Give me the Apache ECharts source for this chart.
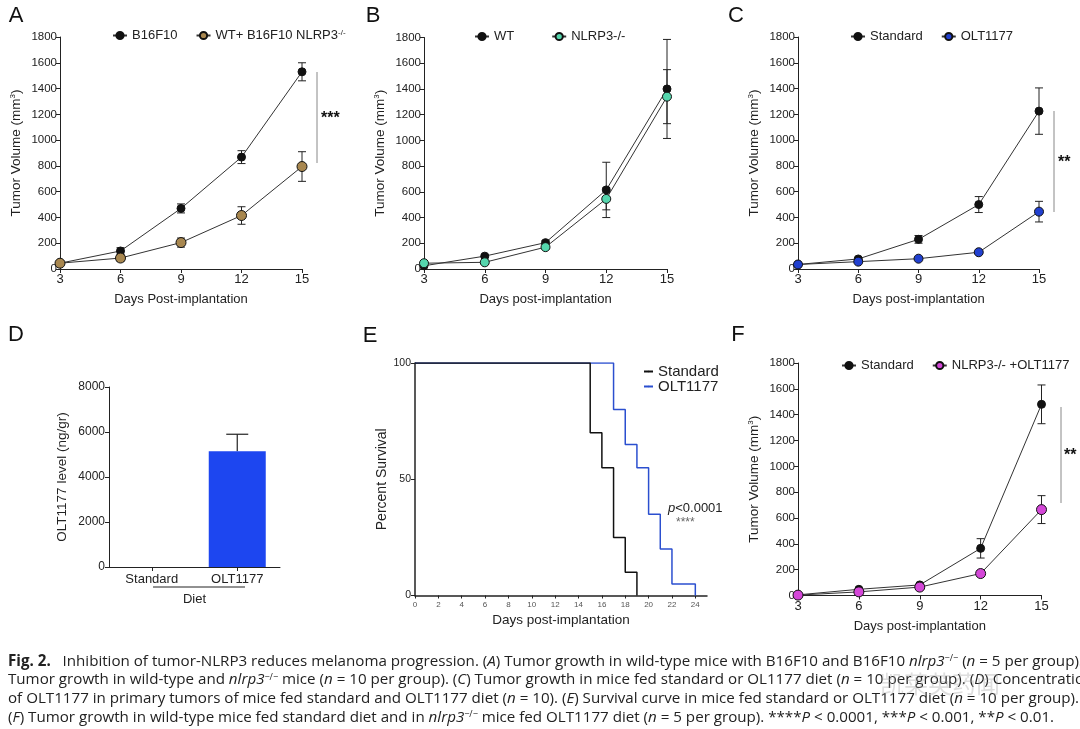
<!DOCTYPE html>
<html>
<head>
<meta charset="utf-8">
<title>Fig. 2</title>
<script src="https://cdn.jsdelivr.net/npm/echarts@6/dist/echarts.min.js"></script>
<style>
  html, body { margin: 0; padding: 0; background: #fff; }
  #main { width: 1080px; height: 729px; }
</style>
</head>
<body>
<div id="main"></div>
<script>
  // values
  var days = [3, 6, 9, 12, 15];

  // A: B16F10 vs WT + B16F10 NLRP3-/-
  var aB16Mean = [45, 140, 470, 868, 1530];
  var aB16Err = [10, 25, 35, 50, 70];
  var aKoMean = [45, 85, 205, 415, 795];
  var aKoErr = [10, 25, 35, 68, 115];

  // B: WT vs NLRP3-/- mice
  var bWtMean = [25, 100, 205, 615, 1400];
  var bWtErr = [10, 10, 15, 215, 385];
  var bKoMean = [45, 52, 170, 545, 1340];
  var bKoErr = [10, 10, 10, 85, 210];

  // C: standard vs OLT1177 diet
  var cStdMean = [35, 78, 230, 500, 1225];
  var cStdErr = [10, 10, 30, 62, 180];
  var cOltMean = [35, 57, 80, 130, 445];
  var cOltErr = [5, 5, 5, 8, 80];

  // D: OLT1177 level in tumors
  var dDiet = ['Standard', 'OLT1177'];
  var dLevel = [0, 5150];
  var dErr = [0, 750];

  // E: survival
  var eStdDays = [0, 15, 16, 17, 18, 19];
  var eStdSurv = [100, 70, 55, 25, 10, 0];
  var eOltDays = [0, 17, 18, 19, 20, 21, 22, 24];
  var eOltSurv = [100, 80, 65, 55, 35, 20, 5, 0];
  var eTicks = [0, 25, 2];

  // F: standard vs NLRP3-/- + OLT1177
  var fStdMean = [5, 48, 82, 365, 1480];
  var fStdErr = [3, 8, 10, 75, 150];
  var fMixMean = [3, 28, 65, 170, 665];
  var fMixErr = [2, 5, 8, 10, 108];

  var FONT = '"Liberation Sans", Arial, sans-serif';
  var CAP_FONT = '"Open Sans", sans-serif';
  var CAP_SIZE = 15.15;
  var INK = '#222';

  var labels = {
    A1: 'B16F10', A2: 'WT+ B16F10 NLRP3{sup|-/-}',
    B1: 'WT', B2: 'NLRP3-/-',
    C1: 'Standard', C2: 'OLT1177',
    E1: 'Standard', E2: 'OLT1177',
    F1: 'Standard', F2: 'NLRP3-/- +OLT1177'
  };

  function pairs(xs, ys) {
    return xs.map(function (x, i) { return [x, ys[i]]; });
  }
  function errRows(xs, mean, err) {
    return xs.map(function (x, i) { return [x, mean[i] - err[i], mean[i] + err[i]]; });
  }
  function plain(v) { return String(v); }

  function renderErr(params, api) {
    var x = api.value(0);
    var top = api.coord([x, api.value(2)]);
    var bot = api.coord([x, api.value(1)]);
    var w = 4;
    var st = { stroke: INK, lineWidth: 1 };
    return {
      type: 'group',
      children: [
        { type: 'line', shape: { x1: top[0], y1: top[1], x2: bot[0], y2: bot[1] }, style: st },
        { type: 'line', shape: { x1: top[0] - w, y1: top[1], x2: top[0] + w, y2: top[1] }, style: st },
        { type: 'line', shape: { x1: bot[0] - w, y1: bot[1], x2: bot[0] + w, y2: bot[1] }, style: st }
      ]
    };
  }

  function renderBarErr(params, api) {
    var top = api.coord([api.value(0), api.value(2)]);
    var base = api.coord([api.value(0), api.value(1)]);
    var w = 11;
    var st = { stroke: INK, lineWidth: 1.2 };
    return {
      type: 'group',
      children: [
        { type: 'line', shape: { x1: top[0], y1: top[1], x2: base[0], y2: base[1] }, style: st },
        { type: 'line', shape: { x1: top[0] - w, y1: top[1], x2: top[0] + w, y2: top[1] }, style: st }
      ]
    };
  }

  function growth(name, idx, ys, color, size) {
    return {
      name: name, type: 'line', xAxisIndex: idx, yAxisIndex: idx,
      data: pairs(days, ys),
      symbol: 'circle', symbolSize: size,
      lineStyle: { color: '#333', width: 1 },
      itemStyle: { color: color, borderColor: '#111', borderWidth: 1 },
      z: 4
    };
  }
  function errSeries(idx, mean, err) {
    return {
      type: 'custom', xAxisIndex: idx, yAxisIndex: idx,
      renderItem: renderErr, data: errRows(days, mean, err), z: 3, silent: true
    };
  }

  function axisBase() {
    return {
      axisLine: { show: true, lineStyle: { color: INK, width: 1 } },
      axisTick: { show: true, length: 4, lineStyle: { color: INK } },
      splitLine: { show: false },
      axisLabel: { color: INK, fontFamily: FONT, fontSize: 12, margin: 4, formatter: plain }
    };
  }

  function dayAxis(idx, name, gap) {
    var a = axisBase();
    a.gridIndex = idx;
    a.type = 'value';
    a.min = 3; a.max = 15; a.interval = 3;
    a.axisLabel.fontSize = 13;
    a.name = name;
    a.nameLocation = 'middle';
    a.nameGap = gap;
    a.nameTextStyle = { color: INK, fontFamily: FONT, fontSize: 13 };
    return a;
  }
  function volAxis(idx) {
    var a = axisBase();
    a.gridIndex = idx;
    a.type = 'value';
    a.min = 0; a.max = 1800; a.interval = 200;
    a.axisLabel.fontSize = 11.5;
    a.axisLabel.margin = 3;
    a.name = 'Tumor Volume (mm{sup|3})';
    a.nameLocation = 'middle';
    a.nameGap = 37;
    a.nameTextStyle = {
      color: INK, fontFamily: FONT, fontSize: 13.5,
      rich: { sup: { fontSize: 8, verticalAlign: 'top', fontFamily: FONT, color: INK } }
    };
    return a;
  }

  function legendFor(names, left, top, gap) {
    return {
      data: names, left: left, top: top, itemGap: gap,
      itemWidth: 14, itemHeight: 9, padding: 0, selectedMode: false,
      formatter: function (n) { return labels[n]; },
      textStyle: {
        color: INK, fontFamily: FONT, fontSize: 13, padding: [0, 0, 0, 0],
        rich: { sup: { fontSize: 8, verticalAlign: 'top', color: INK, fontFamily: FONT } }
      }
    };
  }

  // grids: A B C D E F
  var grids = [
    { left: 60, top: 37, width: 242, height: 232 },
    { left: 424, top: 37.5, width: 243, height: 231.5 },
    { left: 798, top: 37, width: 241, height: 232 },
    { left: 109, top: 387, width: 171, height: 180 },
    { left: 415, top: 363, width: 292, height: 232.5 },
    { left: 798, top: 363, width: 243.5, height: 232.5 }
  ];

  var xAxes = [
    dayAxis(0, 'Days Post-implantation', 24),
    dayAxis(1, 'Days post-implantation', 24),
    dayAxis(2, 'Days post-implantation', 24),
    (function () {
      var a = axisBase();
      a.gridIndex = 3; a.type = 'category'; a.data = dDiet;
      a.boundaryGap = true;
      a.axisTick = { show: true, alignWithLabel: true, length: 4, lineStyle: { color: INK } };
      a.axisLabel = { color: INK, fontFamily: FONT, fontSize: 13, margin: 6 };
      a.name = 'Diet'; a.nameLocation = 'middle'; a.nameGap = 26;
      a.nameTextStyle = { color: INK, fontFamily: FONT, fontSize: 13 };
      return a;
    })(),
    (function () {
      var a = axisBase();
      a.gridIndex = 4; a.type = 'value';
      a.min = eTicks[0]; a.max = eTicks[1]; a.interval = eTicks[2];
      a.axisLine.lineStyle.width = 1.5;
      a.axisTick.length = 3;
      a.axisLabel = { color: '#555', fontFamily: FONT, fontSize: 8, margin: 5, showMaxLabel: false };
      a.name = 'Days post-implantation'; a.nameLocation = 'middle'; a.nameGap = 18;
      a.nameTextStyle = { color: INK, fontFamily: FONT, fontSize: 13.5 };
      return a;
    })(),
    dayAxis(5, 'Days post-implantation', 24)
  ];

  var yAxes = [
    volAxis(0), volAxis(1), volAxis(2),
    (function () {
      var a = axisBase();
      a.gridIndex = 3; a.type = 'value';
      a.min = 0; a.max = 8000; a.interval = 2000;
      a.name = 'OLT1177 level (ng/gr)'; a.nameLocation = 'middle'; a.nameGap = 40;
      a.nameTextStyle = { color: INK, fontFamily: FONT, fontSize: 13.5 };
      return a;
    })(),
    (function () {
      var a = axisBase();
      a.gridIndex = 4; a.type = 'value';
      a.min = 0; a.max = 100; a.interval = 50;
      a.axisLine.lineStyle.width = 1.5;
      a.axisLabel.fontSize = 10.5;
      a.name = 'Percent Survival'; a.nameLocation = 'middle'; a.nameGap = 20;
      a.nameTextStyle = { color: INK, fontFamily: FONT, fontSize: 14 };
      return a;
    })(),
    volAxis(5)
  ];

  var series = [
    errSeries(0, aB16Mean, aB16Err),
    errSeries(0, aKoMean, aKoErr),
    growth('A1', 0, aB16Mean, '#111', 8),
    growth('A2', 0, aKoMean, '#a8874f', 10),

    errSeries(1, bWtMean, bWtErr),
    errSeries(1, bKoMean, bKoErr),
    growth('B1', 1, bWtMean, '#111', 8),
    growth('B2', 1, bKoMean, '#55d6ad', 9),

    errSeries(2, cStdMean, cStdErr),
    errSeries(2, cOltMean, cOltErr),
    growth('C1', 2, cStdMean, '#111', 8),
    growth('C2', 2, cOltMean, '#2140d0', 9),

    {
      type: 'bar', xAxisIndex: 3, yAxisIndex: 3, data: dLevel, barWidth: 57,
      itemStyle: { color: '#1d46f0' }, z: 2
    },
    {
      type: 'custom', xAxisIndex: 3, yAxisIndex: 3, renderItem: renderBarErr, z: 1,
      data: dDiet.map(function (c, i) { return [i, dLevel[i], dLevel[i] + dErr[i]]; })
        .filter(function (r) { return r[2] > r[1]; })
    },

    {
      name: 'E2', type: 'line', xAxisIndex: 4, yAxisIndex: 4, step: 'end',
      data: pairs(eOltDays, eOltSurv), symbol: 'none',
      lineStyle: { color: '#2b4fcf', width: 1.5 }, itemStyle: { color: '#2b4fcf' }, z: 3
    },
    {
      name: 'E1', type: 'line', xAxisIndex: 4, yAxisIndex: 4, step: 'end',
      data: pairs(eStdDays, eStdSurv), symbol: 'none',
      lineStyle: { color: '#111', width: 1.5 }, itemStyle: { color: '#111' }, z: 4
    },

    errSeries(5, fStdMean, fStdErr),
    errSeries(5, fMixMean, fMixErr),
    growth('F1', 5, fStdMean, '#111', 8),
    growth('F2', 5, fMixMean, '#d447d8', 10)
  ];

  var legends = [
    legendFor(['A1', 'A2'], 112, 29, 18),
    legendFor(['B1', 'B2'], 474, 30, 37),
    legendFor(['C1', 'C2'], 850, 30, 18),
    legendFor(['F1', 'F2'], 841, 359, 18),
    (function () {
      var l = legendFor(['E1', 'E2'], 643, 364, 0);
      l.orient = 'vertical';
      l.itemWidth = 9; l.itemHeight = 2;
      l.textStyle.fontSize = 15; l.textStyle.lineHeight = 15;
      return l;
    })()
  ];

  function letter(t, x, y) {
    return {
      type: 'text', x: x, y: y,
      style: { text: t, fontFamily: FONT, fontSize: 22, fill: '#111', textAlign: 'center', textVerticalAlign: 'middle' }
    };
  }
  function sigLine(x, y1, y2) {
    return { type: 'line', shape: { x1: x, y1: y1, x2: x, y2: y2 }, style: { stroke: '#888', lineWidth: 1 } };
  }
  function stars(t, x, y) {
    return {
      type: 'text', x: x, y: y,
      style: { text: t, fontFamily: FONT, fontSize: 16, fontWeight: 'bold', fill: '#111', textAlign: 'left', textVerticalAlign: 'middle' }
    };
  }

  var capRich = {
    b: { fontWeight: 'bold', fontFamily: CAP_FONT, fontSize: CAP_SIZE, color: INK },
    i: { fontStyle: 'italic', fontFamily: CAP_FONT, fontSize: CAP_SIZE, color: INK },
    sup: { fontFamily: CAP_FONT, fontSize: 9, verticalAlign: 'top', color: INK }
  };
  var caption = [
    '{b|Fig. 2.}   Inhibition of tumor-NLRP3 reduces melanoma progression. ({i|A}) Tumor growth in wild-type mice with B16F10 and B16F10 {i|nlrp3}{sup|\u2212/\u2212} ({i|n} = 5 per group). ({i|B})',
    'Tumor growth in wild-type and {i|nlrp3}{sup|\u2212/\u2212} mice ({i|n} = 10 per group). ({i|C}) Tumor growth in mice fed standard or OL1177 diet ({i|n} = 10 per group). ({i|D}) Concentration',
    'of OLT1177 in primary tumors of mice fed standard and OLT1177 diet ({i|n} = 10). ({i|E}) Survival curve in mice fed standard or OLT1177 diet ({i|n} = 10 per group).',
    '({i|F}) Tumor growth in wild-type mice fed standard diet and in {i|nlrp3}{sup|\u2212/\u2212} mice fed OLT1177 diet ({i|n} = 5 per group). ****{i|P} < 0.0001, ***{i|P} < 0.001, **{i|P} < 0.01.'
  ];
  var captionY = [661.5, 680, 699, 717.5];

  var graphics = [
    letter('A', 16, 16), letter('B', 373, 16), letter('C', 736, 16),
    letter('D', 16, 335), letter('E', 370, 336), letter('F', 738, 335),
    sigLine(317, 72, 163), stars('***', 321, 119),
    sigLine(1054, 111, 212), stars('**', 1058, 163),
    sigLine(1061, 407, 503), stars('**', 1064, 456),
    { type: 'line', shape: { x1: 153, y1: 587, x2: 245, y2: 587 }, style: { stroke: INK, lineWidth: 1 } },
    {
      type: 'text', x: 668, y: 508,
      style: { text: '{i|p}<0.0001', fontFamily: FONT, fontSize: 13, fill: INK, textVerticalAlign: 'middle',
        rich: { i: { fontStyle: 'italic', fontFamily: FONT, fontSize: 13, color: INK } } }
    },
    {
      type: 'text', x: 676, y: 523,
      style: { text: '****', fontFamily: FONT, fontSize: 12, fill: '#666', textVerticalAlign: 'middle' }
    }
  ];
  caption.forEach(function (t, i) {
    graphics.push({
      type: 'text', x: 8, y: captionY[i],
      style: { text: t, rich: capRich, fontFamily: CAP_FONT, fontSize: CAP_SIZE, fill: INK, textVerticalAlign: 'middle' }
    });
  });
  graphics.push({
    type: 'text', x: 880, y: 684, z: 100,
    style: { text: '凯莱英药闻', fontFamily: '"Noto Sans CJK SC", sans-serif', fontSize: 24, fill: 'rgba(160,160,160,0.35)', textVerticalAlign: 'middle' }
  });

  var chart = echarts.init(document.getElementById('main'), null, { renderer: 'canvas' });
  chart.setOption({
    backgroundColor: '#fff',
    animation: false,
    textStyle: { fontFamily: FONT },
    grid: grids,
    xAxis: xAxes,
    yAxis: yAxes,
    legend: legends,
    series: series,
    graphic: graphics
  });
</script>
</body>
</html>
